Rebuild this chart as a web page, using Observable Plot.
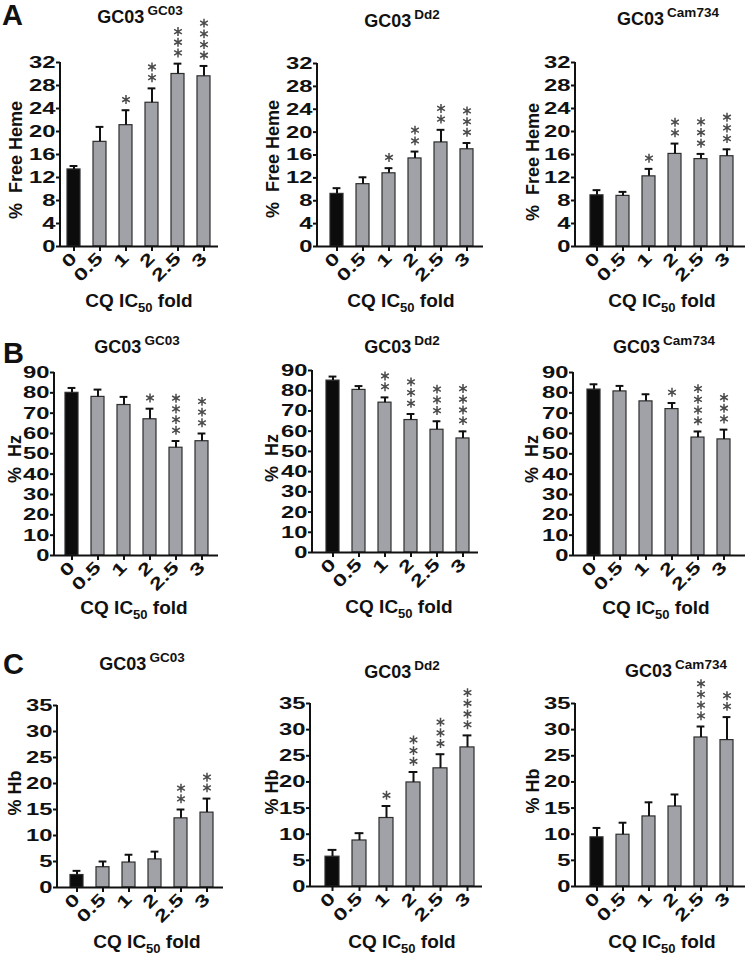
<!DOCTYPE html>
<html>
<head>
<meta charset="utf-8">
<script src="https://cdn.jsdelivr.net/npm/d3@7"></script>
<script src="https://cdn.jsdelivr.net/npm/@observablehq/plot@0.6"></script>
<style>
  html, body { margin: 0; padding: 0; background: #fff; }
  #chart { position: relative; width: 745px; height: 960px; overflow: hidden; background: #fff; }
  #chart svg { position: absolute; overflow: visible; background: transparent; }
  .txt { position: absolute; font-family: "Liberation Sans", Arial, sans-serif; font-weight: bold; color: #111; white-space: pre; line-height: 1; }
  .title { font-size: 18px; transform: translateX(-50%); }
  .title .sup { font-size: 13.5px; position: relative; top: -8px; margin-left: 3px; }
  .xlab { font-size: 19px; transform: translateX(-50%); }
  .xlab .sub { font-size: 13px; position: relative; top: 5px; }
  .ylab { font-size: 18px; transform: translate(-50%, -50%) rotate(-90deg); }
  .letter { font-size: 29px; }
</style>
</head>
<body>
<div id="chart"></div>
<script>
// ---------- data ----------
const folds = ["0", "0.5", "1", "2", "2.5", "3"];

// % Free Heme (row A)
const hemeGC03 = [13.4, 18.2, 21.1, 25.0, 30.0, 29.6];
const hemeGC03Sem = [0.6, 2.6, 2.6, 2.5, 1.8, 1.8];
const hemeGC03Sig = [0, 0, 1, 2, 3, 4];
const hemeDd2 = [9.2, 10.9, 12.8, 15.4, 18.2, 17.0];
const hemeDd2Sem = [1.0, 1.2, 0.9, 1.2, 2.2, 1.1];
const hemeDd2Sig = [0, 0, 1, 2, 2, 3];
const hemeCam = [8.9, 8.8, 12.2, 16.1, 15.2, 15.7];
const hemeCamSem = [0.9, 0.7, 1.3, 1.8, 0.9, 1.2];
const hemeCamSig = [0, 0, 1, 2, 3, 3];

// % Hz (row B)
const hzGC03 = [80.0, 78.0, 74.0, 67.0, 53.0, 56.2];
const hzGC03Sem = [2.4, 3.6, 4.0, 5.2, 3.3, 3.8];
const hzGC03Sig = [0, 0, 0, 1, 4, 3];
const hzDd2 = [85.0, 80.4, 74.1, 65.5, 60.7, 56.4];
const hzDd2Sem = [2.0, 1.9, 2.6, 3.0, 4.2, 3.5];
const hzDd2Sig = [0, 0, 2, 3, 3, 4];
const hzCam = [81.6, 80.7, 75.8, 72.0, 58.0, 57.1];
const hzCamSem = [2.6, 2.7, 3.5, 3.0, 3.0, 4.8];
const hzCamSig = [0, 0, 0, 1, 4, 3];

// % Hb (row C)
const hbGC03 = [2.4, 3.9, 4.8, 5.4, 13.3, 14.4];
const hbGC03Sem = [0.8, 1.1, 1.5, 1.5, 1.7, 2.7];
const hbGC03Sig = [0, 0, 0, 0, 2, 2];
const hbDd2 = [5.7, 8.8, 13.1, 19.9, 22.6, 26.6];
const hbDd2Sem = [1.3, 1.4, 2.3, 2.0, 2.7, 2.3];
const hbDd2Sig = [0, 0, 1, 3, 3, 4];
const hbCam = [9.4, 9.9, 13.4, 15.3, 28.5, 28.0];
const hbCamSem = [1.8, 2.3, 2.7, 2.3, 2.1, 4.4];
const hbCamSig = [0, 0, 0, 0, 4, 2];

const strains = ["GC03", "Dd2", "Cam734"];
const yLabels = ["%  Free Heme", "%  Hz", "% Hb"];
const yMax = [32, 90, 35];
const yStep = [4, 10, 5];
const panelLetters = ["A", "B", "C"];

// ---------- layout (pixel geometry) ----------
const layout = [
  [ {ax: 60, top: 62, zero: 246, xEnd: 218, c0: 72, c5: 205, tx: 140, ty: 23, lx: 16, ly: 160, xx: 139, xy: 307},
    {ax: 317, top: 63, zero: 246, xEnd: 483, c0: 335, c5: 468, tx: 402, ty: 27, lx: 273, ly: 159, xx: 401, xy: 307},
    {ax: 575, top: 62, zero: 246, xEnd: 745, c0: 595, c5: 728, tx: 668, ty: 25, lx: 533, ly: 162, xx: 662, xy: 307} ],
  [ {ax: 54, top: 372, zero: 555, xEnd: 218, c0: 71, c5: 203, tx: 137, ty: 353, lx: 15, ly: 459, xx: 134, xy: 614},
    {ax: 312, top: 370, zero: 552, xEnd: 478, c0: 332, c5: 463, tx: 402, ty: 353, lx: 272, ly: 458, xx: 399, xy: 613},
    {ax: 573, top: 372, zero: 555, xEnd: 745, c0: 592, c5: 725, tx: 664, ty: 353, lx: 532, ly: 459, xx: 656, xy: 614} ],
  [ {ax: 57, top: 705, zero: 887, xEnd: 223, c0: 75, c5: 208, tx: 142, ty: 670, lx: 15, ly: 793, xx: 147, xy: 948},
    {ax: 310, top: 703, zero: 886, xEnd: 482, c0: 330, c5: 468, tx: 402, ty: 678, lx: 272, ly: 792, xx: 402, xy: 948},
    {ax: 575, top: 703, zero: 886, xEnd: 745, c0: 595, c5: 728, tx: 676, ty: 677, lx: 533, ly: 791, xx: 662, xy: 948} ]
];
const letterPos = [{x: 2, y: 24}, {x: 3, y: 362}, {x: 3, y: 673}];

const series = [
  [[hemeGC03, hemeGC03Sem, hemeGC03Sig], [hemeDd2, hemeDd2Sem, hemeDd2Sig], [hemeCam, hemeCamSem, hemeCamSig]],
  [[hzGC03, hzGC03Sem, hzGC03Sig], [hzDd2, hzDd2Sem, hzDd2Sig], [hzCam, hzCamSem, hzCamSig]],
  [[hbGC03, hbGC03Sem, hbGC03Sig], [hbDd2, hbDd2Sem, hbDd2Sig], [hbCam, hbCamSem, hbCamSig]]
];

const chart = document.getElementById("chart");
const ML = 50, MT = 70, MR = 4, MB = 50;
const TICK_STRETCH = 1.4;

function addText(cls, html, left, top) {
  const d = document.createElement("div");
  d.className = "txt " + cls;
  d.innerHTML = html;
  d.style.left = left + "px";
  d.style.top = top + "px";
  chart.appendChild(d);
  return d;
}

for (let r = 0; r < 3; r++) {
  addText("letter", panelLetters[r], letterPos[r].x, letterPos[r].y - 0.80 * 29);
  for (let c = 0; c < 3; c++) {
    const L = layout[r][c];
    const [vals, sem, sig] = series[r][c];
    const data = folds.map((f, i) => ({fold: f, v: vals[i], hi: vals[i] + sem[i], sig: sig[i], ctrl: i === 0}));
    const step = (L.c5 - L.c0) / 5;
    const width = ML + (L.xEnd - L.ax) + MR;
    const height = MT + (L.zero - L.top) + MB;
    const x0 = ML + (L.c0 - L.ax) - step / 2;
    const x1 = ML + (L.c5 - L.ax) + step / 2;

    const starMarks = [0, 1, 2, 3].map(j =>
      Plot.dot(data.filter(d => d.sig > j), {
        x: "fold", y: "hi", symbol: "asterisk", r: 4.2,
        stroke: "#4a4a4a", strokeWidth: 1.5, dy: -10.7 * (j + 1)
      })
    );

    const svg = Plot.plot({
      width, height,
      marginLeft: ML, marginTop: MT, marginRight: MR, marginBottom: MB,
      style: {fontFamily: "'Liberation Sans', Arial, sans-serif", fontSize: "17px", fontWeight: "bold", color: "#111", background: "transparent", overflow: "visible"},
      x: {type: "band", domain: folds, range: [x0, x1], paddingInner: 0.5, paddingOuter: 0.25},
      y: {domain: [0, yMax[r]]},
      color: {type: "identity"},
      marks: [
        Plot.barY(data, {x: "fold", y: "v", fill: d => d.ctrl ? "#0c0c0c" : "#a1a2a7", stroke: "#2e2e2e", strokeWidth: 1.2}),
        Plot.ruleX(data, {x: "fold", y1: "v", y2: "hi", stroke: "#111", strokeWidth: 2}),
        Plot.tickY(data, {x: "fold", y: "hi", stroke: "#111", strokeWidth: 2, insetLeft: 2.6, insetRight: 2.6}),
        ...starMarks,
        Plot.ruleY([0], {stroke: "#111", strokeWidth: 2}),
        Plot.axisY({ticks: d3.range(0, yMax[r] + 0.001, yStep[r]), tickSize: 4, tickPadding: 1, label: null, stroke: "#111", strokeWidth: 2}),
        Plot.axisX({tickSize: 5, tickPadding: 4, tickRotate: -45, label: null, stroke: "#111", strokeWidth: 2})
      ]
    });

    // vertical axis line along the y scale
    const ys = svg.scale("y");
    const yA = ys.apply(0), yB = ys.apply(yMax[r]);
    d3.select(svg).append("line")
      .attr("x1", ML).attr("x2", ML)
      .attr("y1", yA + 1).attr("y2", yB)
      .attr("stroke", "#111").attr("stroke-width", 2);

    // widen tick label glyphs to match the heavy, wide lettering of the figure
    d3.select(svg).selectAll("g[aria-label$='tick label'] text").each(function () {
      const t = this.getAttribute("transform") || "";
      this.setAttribute("transform", t + " scale(" + TICK_STRETCH + ",1)");
    });

    svg.style.left = (L.ax - ML) + "px";
    svg.style.top = (L.top - MT) + "px";
    chart.appendChild(svg);

    addText("title", "GC03<span class=\"sup\">" + strains[c] + "</span>", L.tx, L.ty - 0.85 * 18);
    addText("xlab", "CQ IC<span class=\"sub\">50</span> fold", L.xx, L.xy - 0.85 * 19);
    addText("ylab", yLabels[r], L.lx, L.ly);
  }
}
</script>
</body>
</html>
